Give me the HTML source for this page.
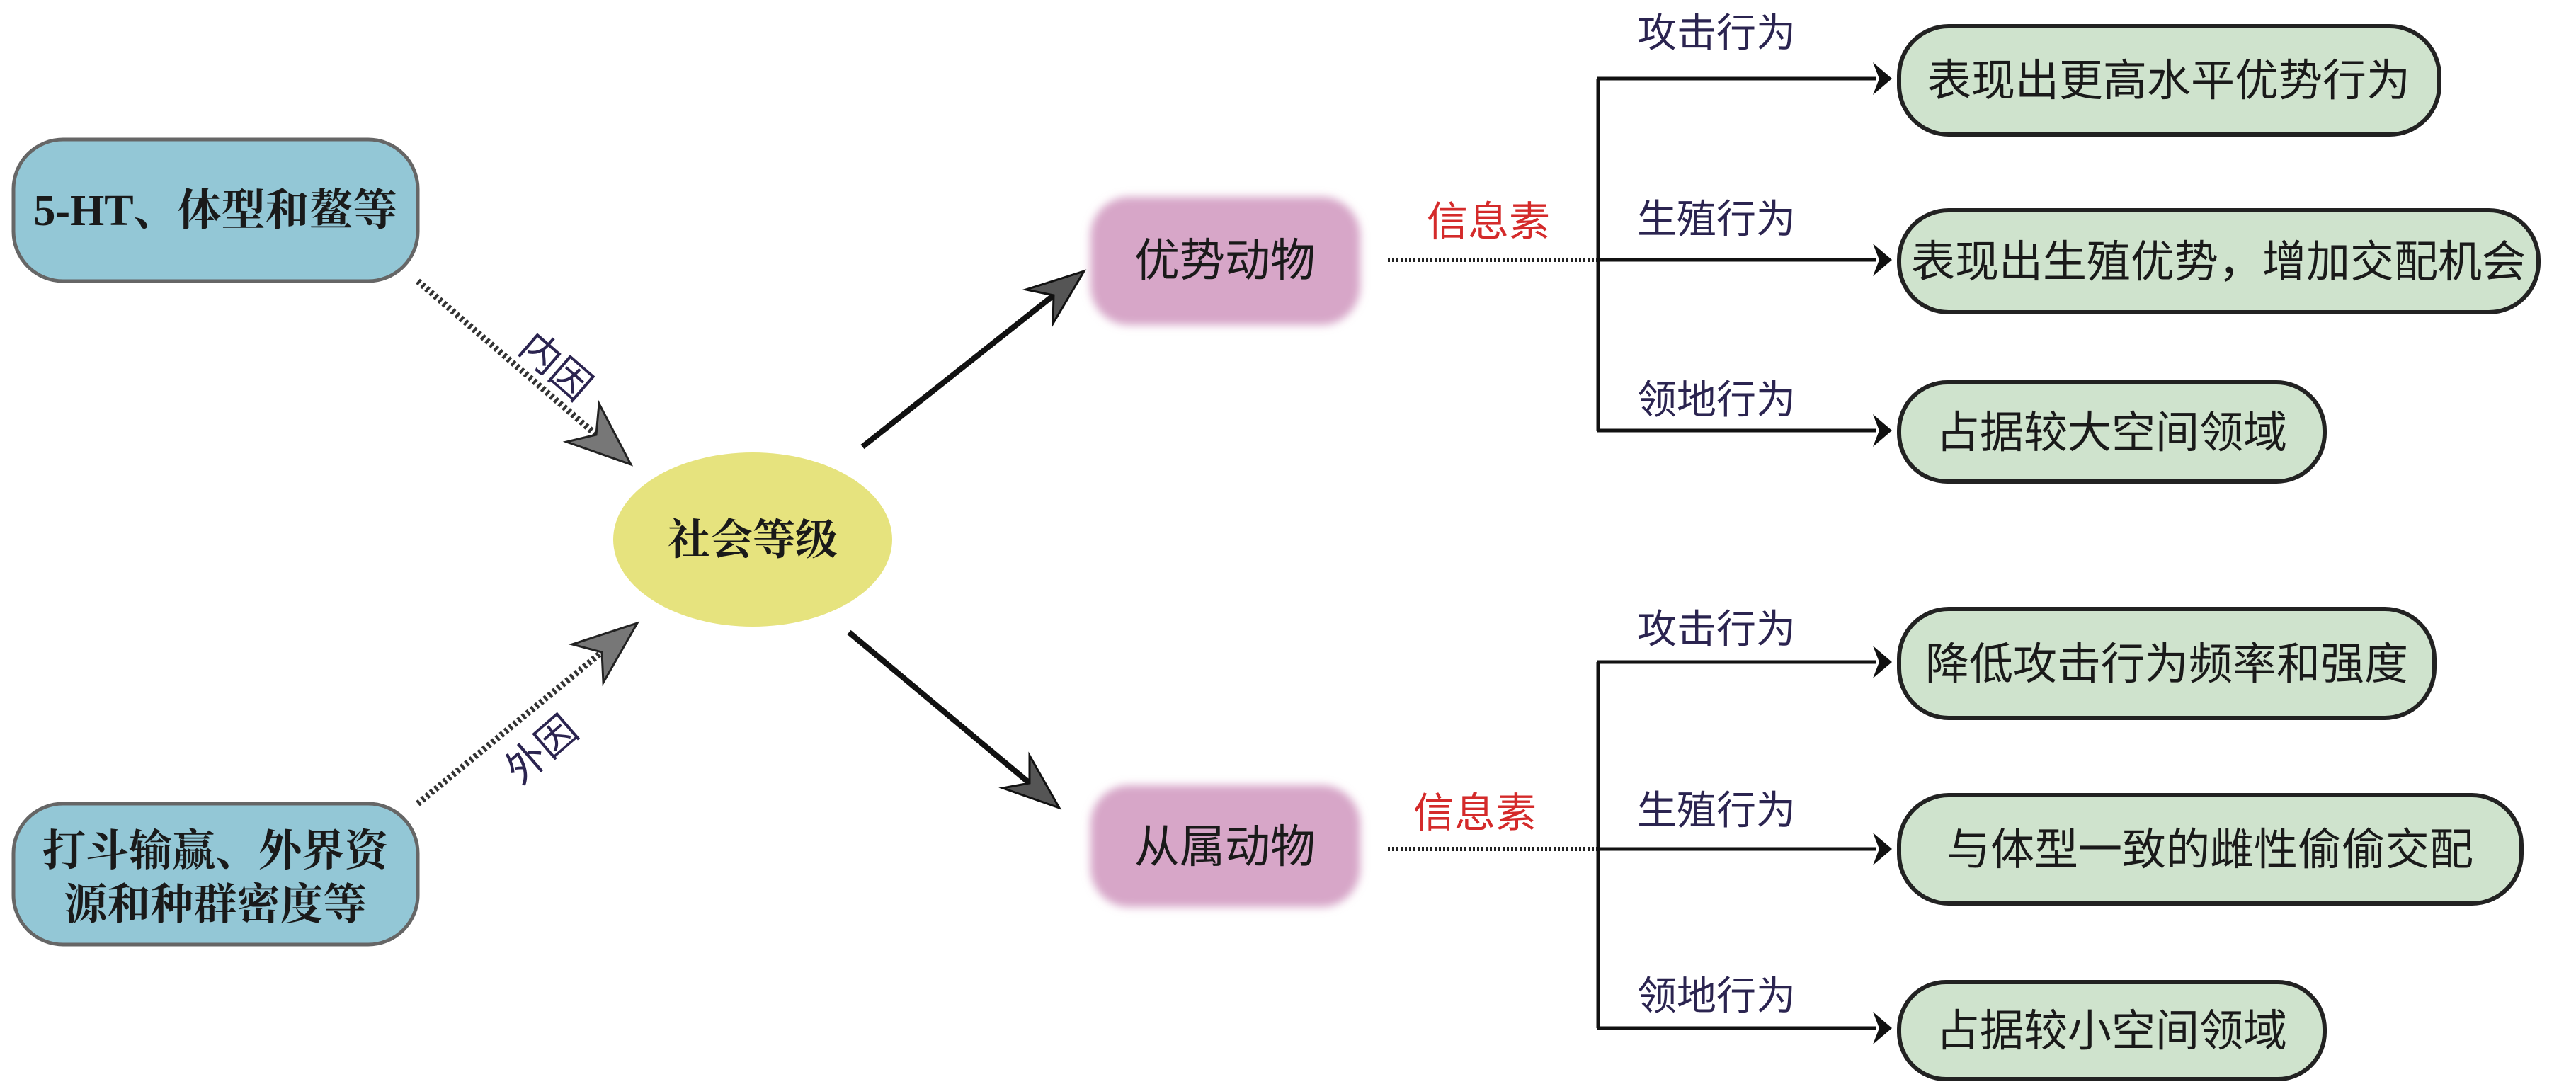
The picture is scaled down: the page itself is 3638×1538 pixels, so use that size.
<!DOCTYPE html>
<html><head><meta charset="utf-8"><style>
html,body{margin:0;padding:0;background:#fff;}
svg{display:block;}
.b{font-family:"Liberation Serif","Noto Serif CJK SC",serif;font-weight:bold;fill:#1a1a1a;}
.s{font-family:"Liberation Sans","Noto Sans CJK SC",sans-serif;}
</style></head><body>
<svg width="3638" height="1538" viewBox="0 0 3638 1538" xmlns="http://www.w3.org/2000/svg">
<defs>
<filter id="glow" x="-10%" y="-10%" width="120%" height="120%"><feGaussianBlur stdDeviation="6"/></filter>
</defs>
<!-- blue boxes -->
<rect x="19" y="197" width="571" height="200" rx="70" fill="#93c7d6" stroke="#666" stroke-width="5"/>
<text x="304" y="318" text-anchor="middle" class="b" font-size="62">5-HT、体型和鳌等</text>
<rect x="19" y="1135" width="571" height="199" rx="70" fill="#93c7d6" stroke="#666" stroke-width="5"/>
<text x="304" y="1222" text-anchor="middle" class="b" font-size="61">打斗输赢、外界资</text>
<text x="304" y="1298" text-anchor="middle" class="b" font-size="61">源和种群密度等</text>
<!-- ellipse -->
<ellipse cx="1063" cy="762" rx="197" ry="123" fill="#e6e37e"/>
<text x="1063" y="783" text-anchor="middle" class="b" font-size="60">社会等级</text>
<!-- dotted arrows -->
<line x1="590" y1="397" x2="842" y2="614" stroke="#333" stroke-width="9" stroke-dasharray="4 4"/>
<polygon points="891,656 846,570 842,614 800,624" fill="#777" stroke="#222" stroke-width="3"/>
<line x1="590" y1="1135" x2="850" y2="921" stroke="#333" stroke-width="9" stroke-dasharray="4 4"/>
<polygon points="900,880 852,964 850,921 808,910" fill="#777" stroke="#222" stroke-width="3"/>
<text x="0" y="0" class="s" font-size="56" fill="#2b2450" transform="translate(730,495) rotate(41)">内因</text>
<text x="0" y="0" class="s" font-size="56" fill="#2b2450" transform="translate(735,1110) rotate(-41)">外因</text>
<!-- black arrows -->
<line x1="1218" y1="631" x2="1488" y2="417" stroke="#111" stroke-width="8"/>
<polygon points="1531,383 1487,457 1488,417 1449,409" fill="#555" stroke="#111" stroke-width="3"/>
<line x1="1199" y1="893" x2="1454" y2="1106" stroke="#111" stroke-width="8"/>
<polygon points="1496,1141 1416,1113 1454,1106 1454,1067" fill="#555" stroke="#111" stroke-width="3"/>
<!-- pink boxes -->
<rect x="1540" y="278" width="381" height="181" rx="55" fill="#d7a6c8" filter="url(#glow)"/>
<text x="1730" y="390" text-anchor="middle" class="s" font-size="64" fill="#1a1a1a">优势动物</text>
<rect x="1540" y="1109" width="381" height="172" rx="55" fill="#d7a6c8" filter="url(#glow)"/>
<text x="1730" y="1218" text-anchor="middle" class="s" font-size="64" fill="#1a1a1a">从属动物</text>
<!-- pheromone -->
<text x="2102" y="333" text-anchor="middle" class="s" font-size="58" fill="#d42a2a">信息素</text>
<line x1="1960" y1="367" x2="2257" y2="367" stroke="#222" stroke-width="6" stroke-dasharray="3 3"/>
<text x="2083" y="1168" text-anchor="middle" class="s" font-size="58" fill="#d42a2a">信息素</text>
<line x1="1960" y1="1199" x2="2257" y2="1199" stroke="#222" stroke-width="6" stroke-dasharray="3 3"/>
<g stroke="#111" stroke-width="5" fill="none">
<line x1="2257" y1="111" x2="2257" y2="608"/>
<line x1="2255" y1="111" x2="2650" y2="111"/>
<line x1="2255" y1="367" x2="2650" y2="367"/>
<line x1="2255" y1="608" x2="2650" y2="608"/>
<line x1="2257" y1="935" x2="2257" y2="1452"/>
<line x1="2255" y1="935" x2="2650" y2="935"/>
<line x1="2255" y1="1199" x2="2650" y2="1199"/>
<line x1="2255" y1="1452" x2="2650" y2="1452"/>
</g>
<g fill="#111">
<polygon points="2672,111 2645,88 2654,111 2645,134"/>
<polygon points="2672,367 2645,344 2654,367 2645,390"/>
<polygon points="2672,608 2645,585 2654,608 2645,631"/>
<polygon points="2672,935 2645,912 2654,935 2645,958"/>
<polygon points="2672,1199 2645,1176 2654,1199 2645,1222"/>
<polygon points="2672,1452 2645,1429 2654,1452 2645,1475"/>
</g>
<g class="s" font-size="56" fill="#2b2450" text-anchor="middle">
<text x="2424" y="66">攻击行为</text>
<text x="2424" y="329">生殖行为</text>
<text x="2424" y="584">领地行为</text>
<text x="2424" y="908">攻击行为</text>
<text x="2424" y="1164">生殖行为</text>
<text x="2424" y="1426">领地行为</text>
</g>
<g fill="#cfe3cd" stroke="#222" stroke-width="6">
<rect x="2682" y="37" width="763" height="153" rx="70"/>
<rect x="2682" y="297" width="903" height="144" rx="70"/>
<rect x="2682" y="540" width="601" height="140" rx="68"/>
<rect x="2682" y="860" width="756" height="154" rx="70"/>
<rect x="2682" y="1123" width="879" height="153" rx="70"/>
<rect x="2682" y="1387" width="601" height="137" rx="66"/>
</g>
<g class="s" font-size="62" fill="#1a1a1a" text-anchor="middle">
<text x="3063" y="135">表现出更高水平优势行为</text>
<text x="3133" y="391">表现出生殖优势，增加交配机会</text>
<text x="2982" y="632">占据较大空间领域</text>
<text x="3060" y="959">降低攻击行为频率和强度</text>
<text x="3121" y="1221">与体型一致的雌性偷偷交配</text>
<text x="2982" y="1477">占据较小空间领域</text>
</g>
</svg>
</body></html>
